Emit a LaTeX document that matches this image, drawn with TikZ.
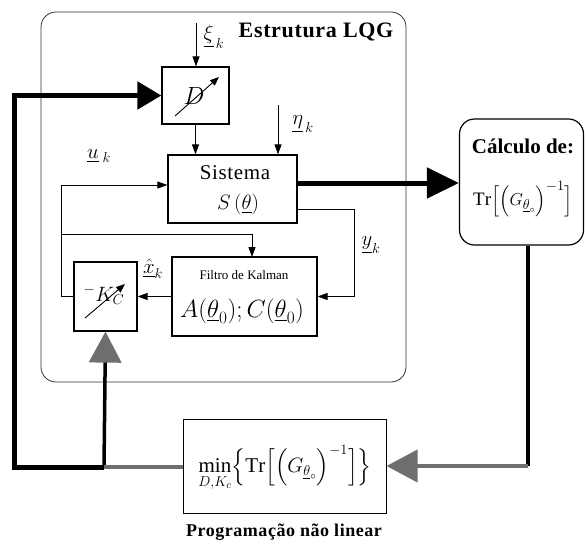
\documentclass[tikz,border=0pt]{standalone}
\usepackage{fontspec}
\usepackage{amsmath}
\setmainfont{Liberation Serif}
\newfontfamily\lsfont[LetterSpace=3]{Liberation Serif}
\usetikzlibrary{arrows.meta}
\definecolor{arrowgray}{RGB}{110,110,110}
\definecolor{framegray}{RGB}{50,50,50}
\tikzset{
  blockbox/.style={draw, line width=1.2pt, inner sep=0pt},
  thinarrow/.style={line width=0.9pt, -{Triangle[length=10pt,width=7pt]}},
  thickline/.style={line width=5pt, line join=miter},
  lbl/.style={inner sep=0pt, font=\fontsize{20}{22}\selectfont}
}
\begin{document}
\begin{tikzpicture}[x=1pt,y=-1pt]
\useasboundingbox (0,0) rectangle (586,544);
% outer LQG frame
\node[draw=framegray, rounded corners=15pt, line width=0.8pt, minimum width=365pt, minimum height=370pt, inner sep=0pt] (lqg) at (223.5,197) {};
\node[inner sep=0pt, font=\lsfont\bfseries\fontsize{22}{24}\selectfont] (title) at (316,32) {Estrutura LQG};
% blocks
\node[blockbox, minimum width=67pt, minimum height=57pt] (D) at (195.5,95.5) {};
\node[inner sep=0pt, font=\fontsize{24}{26}\selectfont] (Dtxt) at (194,96) {$D$};
\draw[line width=0.9pt, -{Triangle[length=9pt,width=7pt]}] (175,116) -- (219,77);
\node[blockbox, minimum width=129pt, minimum height=68pt, align=center] (sis) at (232.5,189) {};
\node[inner sep=0pt, font=\lsfont\fontsize{21}{23}\selectfont] (sistxt) at (235,173) {Sistema};
\node[inner sep=0pt, font=\fontsize{20}{22}\selectfont] (sistxt2) at (238,204) {$S\,(\underline{\theta})$};
\node[blockbox, minimum width=145pt, minimum height=79pt] (kal) at (244.5,296.5) {};
\node[inner sep=0pt, font=\fontsize{13}{15}\selectfont] (kaltxt) at (244,275) {Filtro de Kalman};
\node[inner sep=0pt, font=\fontsize{23}{25}\selectfont] (kaltxt2) at (242,311) {$A(\underline{\theta}_0);C(\underline{\theta}_0)$};
\node[blockbox, minimum width=63pt, minimum height=69pt] (K) at (105.5,296.5) {};
\node[inner sep=0pt, font=\fontsize{22}{24}\selectfont] (Ktxt) at (104,295) {$^{-}K_C$};
\draw[line width=0.9pt, -{Triangle[length=9pt,width=7pt]}] (85,318) -- (125,284);
\node[draw, rounded corners=15pt, line width=1.2pt, minimum width=124pt, minimum height=126pt, inner sep=0pt] (calc) at (521.5,182) {};
\node[inner sep=0pt, font=\bfseries\fontsize{21}{23}\selectfont] (calctxt) at (523,146) {Cálculo de:};
\node[inner sep=0pt, font=\fontsize{19}{21}\selectfont] (calctxt2) at (523,199) {$\mathrm{Tr}\Bigl[\Bigl(G_{\underline{\theta}_{\circ}}\Bigr)^{-1}\Bigr]$};
\node[blockbox, line width=1pt, minimum width=203pt, minimum height=94pt] (min) at (284.5,466) {};
\node[inner sep=0pt, font=\fontsize{21}{23}\selectfont] (mintxt) at (285,468) {$\displaystyle\min_{D,K_c}\Bigl\{\mathrm{Tr}\Bigl[\Bigl(G_{\underline{\theta}_{\circ}}\Bigr)^{-1}\Bigr]\Bigr\}$};
\node[inner sep=0pt, font=\lsfont\bfseries\fontsize{18}{20}\selectfont] (prog) at (284,532) {Programação não linear};
% signal labels
\node[lbl] (xil) at (214,37) {$\underline{\xi}_{\,k}$};
\node[lbl] (etal) at (303,124) {$\underline{\eta}_{\,k}$};
\node[lbl] (ul) at (99,156) {$\underline{u}_{\;k}$};
\node[lbl] (xhl) at (153,269) {$\underline{\hat{x}}_{k}$};
\node[lbl] (yl) at (371,245) {$\underline{y}_{k}$};
% coordinates
\coordinate (xi0) at (196,23);
\coordinate (eta0) at (278,105);
\coordinate (uc) at (61,185);
\coordinate (br) at (61,234);
\coordinate (kin) at (252,257);
\coordinate (yc) at (354,209);
\coordinate (ys) at (297,209);
\coordinate (out) at (297,183);
\coordinate (bl) at (14,467);
\coordinate (tl) at (14,95.5);
\coordinate (j) at (104,467);
\coordinate (rc) at (528,466);
% thin connectors
\draw[thinarrow] (xi0) -- (xi0 |- D.north);
\draw[thinarrow] (D.south) -- (D.south |- sis.north);
\draw[thinarrow] (eta0) -- (eta0 |- sis.north);
\draw[thinarrow] (K.west) -| (uc) -- (uc -| sis.west);
\draw[thinarrow] (br) -| (kin);
\draw[thinarrow] (ys) -- (yc) |- (kal.east);
\draw[thinarrow] (kal.west) -- (K.east);
% thick connectors
\draw[thickline, -{Triangle[length=32pt,width=30pt]}] (out) -- (out -| calc.west);
\draw[thickline, -{Triangle[length=24pt,width=27pt]}] (j) -- (bl) -- (tl) -- (D.west);
\draw[line width=3.5pt, -{Triangle[length=31pt,width=32pt,color=arrowgray]}] (j) -- (K.south);
\draw[line width=4pt, arrowgray] (j) -- (j -| min.west);
\draw[line width=3.5pt] (rc |- calc.south) -- (rc);
\draw[line width=4pt, arrowgray, -{Triangle[length=31pt,width=32pt]}] (rc) -- (rc -| min.east);
\end{tikzpicture}
\end{document}
